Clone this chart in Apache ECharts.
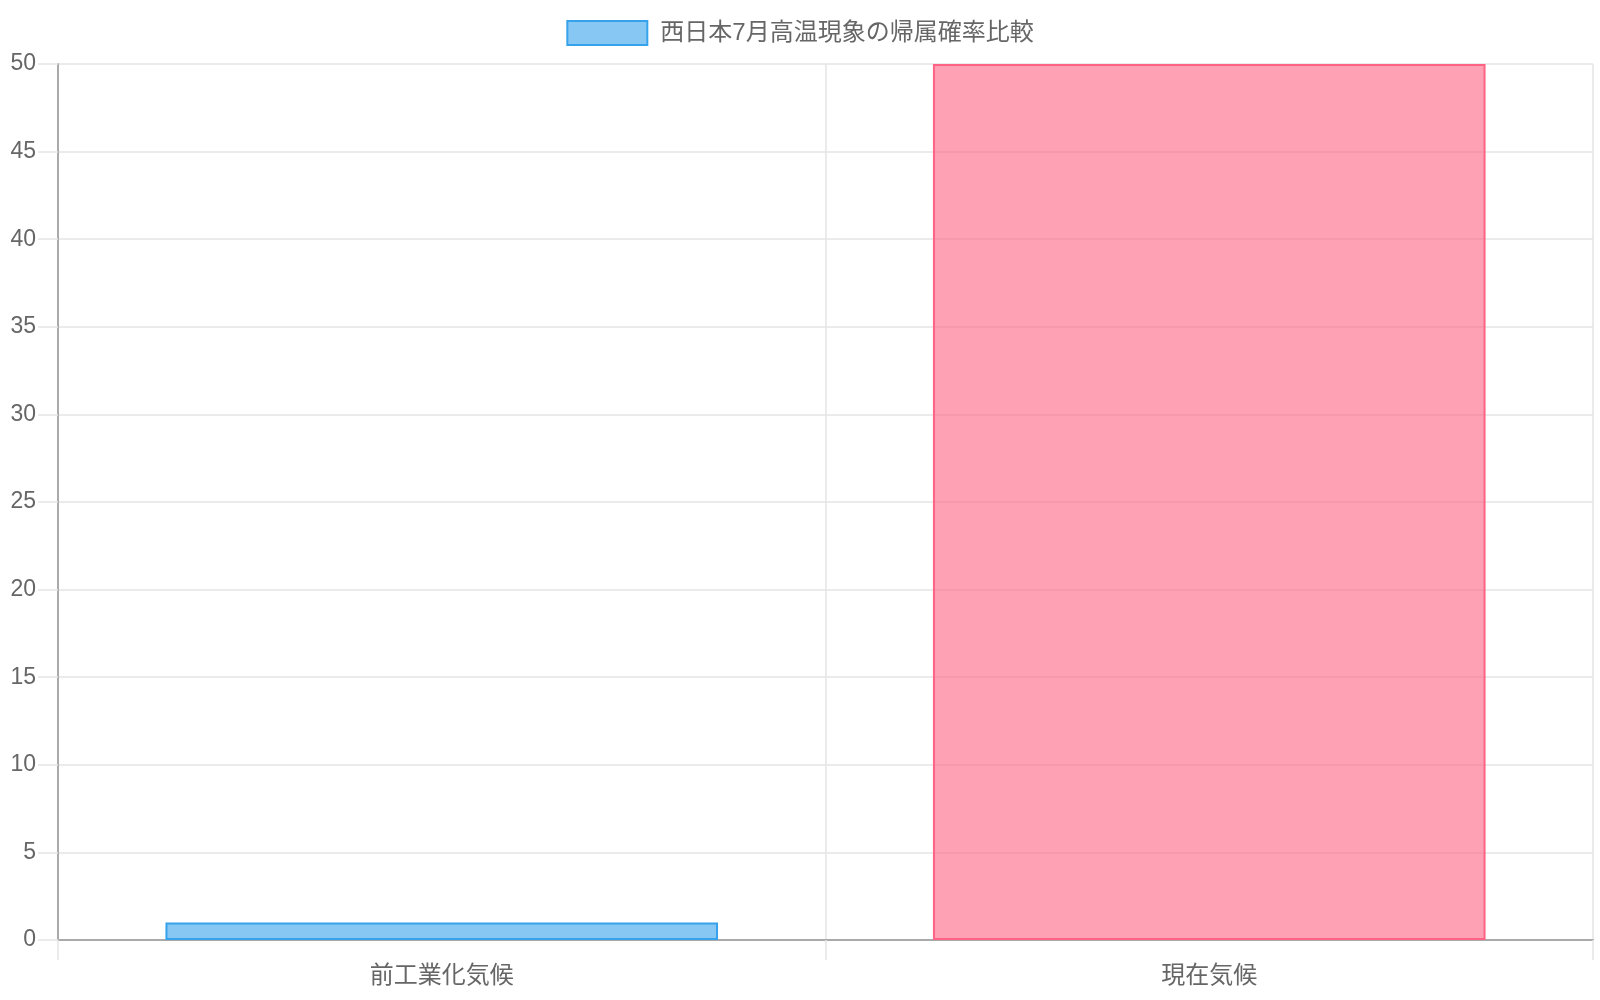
<!DOCTYPE html>
<html>
<head>
<meta charset="utf-8">
<script src="https://cdn.jsdelivr.net/npm/echarts@6/dist/echarts.min.js"></script>
<style>
html,body{margin:0;padding:0;background:#fff;}
#chart{width:1600px;height:1000px;}
</style>
</head>
<body>
<div id="chart"></div>
<script>
const seriesName = '西日本7月高温現象の帰属確率比較';
const categories = ['前工業化気候', '現在気候'];
const values = [1, 50];
const yTicks = { min: 0, max: 50, interval: 5 };

const FONT = "'Liberation Sans', 'Noto Sans CJK JP', Arial, sans-serif";
const fills = ['rgba(54,162,235,0.6)', 'rgba(255,99,132,0.6)'];
const borders = ['#36a2eb', '#ff6384'];

const chart = echarts.init(document.getElementById('chart'));
chart.setOption({
  animation: false,
  textStyle: { fontFamily: FONT },
  legend: {
    top: 15,
    left: 'center',
    icon: 'rect',
    itemWidth: 80,
    itemHeight: 24,
    textStyle: { fontSize: 24, color: '#666', fontFamily: FONT, padding: [0, 0, 0, 8] },
    data: [seriesName]
  },
  grid: { left: 58, right: 7, top: 64, bottom: 60, containLabel: false },
  xAxis: {
    type: 'category',
    data: categories,
    boundaryGap: true,
    axisLine: { show: true, lineStyle: { color: '#aaaaaa', width: 2 } },
    axisTick: { show: true, length: 20, interval: 0, lineStyle: { color: '#e5e5e5', width: 1.5 } },
    axisLabel: { fontSize: 24, color: '#666', margin: 24, fontFamily: FONT },
    splitLine: { show: true, interval: 0, lineStyle: { color: '#e5e5e5', width: 1.5 } }
  },
  yAxis: {
    type: 'value',
    min: yTicks.min,
    max: yTicks.max,
    interval: yTicks.interval,
    axisLine: { show: true, lineStyle: { color: '#aaaaaa', width: 2 } },
    axisTick: { show: true, length: 20, lineStyle: { color: '#e5e5e5', width: 1.5 } },
    axisLabel: { fontSize: 23, color: '#666', margin: 22, fontFamily: FONT },
    splitLine: { show: true, lineStyle: { color: '#e5e5e5', width: 1.5 } }
  },
  series: [{
    name: seriesName,
    type: 'bar',
    barCategoryGap: '28%',
    itemStyle: { color: fills[0], borderColor: borders[0], borderWidth: 2 },
    data: values.map((v, i) => ({
      value: v,
      itemStyle: { color: fills[i], borderColor: borders[i], borderWidth: 2 }
    }))
  }]
});
</script>
</body>
</html>
